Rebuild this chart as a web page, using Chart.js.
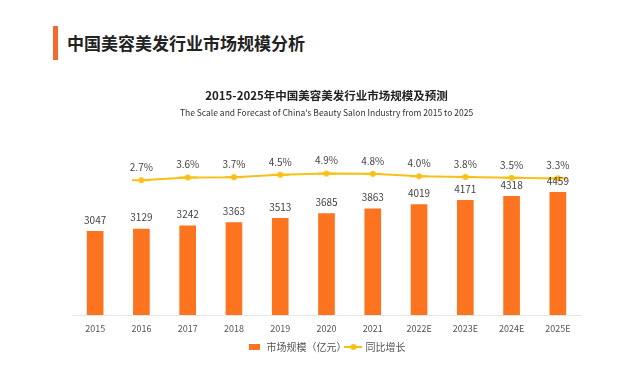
<!DOCTYPE html>
<html>
<head>
<meta charset="utf-8">
<script src="https://cdn.jsdelivr.net/npm/chart.js@4.4.1/dist/chart.umd.min.js"></script>
<style>
  html, body { margin: 0; padding: 0; background: #fff; }
  #wrap { position: relative; width: 640px; height: 374px; overflow: hidden; }
  #bar { position: absolute; left: 53px; top: 26px; width: 5px; height: 34px; background: #f26a2e; }
  #head { position: absolute; left: 67px; top: 29px; font: 700 17px "Noto Sans CJK SC", sans-serif; color: #222; line-height: 28px; }
  canvas { position: absolute; left: 0; top: 0; }
</style>
</head>
<body>
<div id="wrap">
  <div id="bar"></div>
  <div id="head">中国美容美发行业市场规模分析</div>
  <canvas id="chart" width="640" height="374"></canvas>
</div>
<script>
// chart data
const years = ['2015', '2016', '2017', '2018', '2019', '2020', '2021', '2022E', '2023E', '2024E', '2025E'];
const marketSize = [3047, 3129, 3242, 3363, 3513, 3685, 3863, 4019, 4171, 4318, 4459];
const growth = [null, 2.7, 3.6, 3.7, 4.5, 4.9, 4.8, 4.0, 3.8, 3.5, 3.3];

const orange = '#fd7420';
const yellow = '#f7c018';
const cjk = '"Noto Sans CJK SC", sans-serif';

// little legend icons
function rectIcon() {
  const c = document.createElement('canvas');
  c.width = 11; c.height = 6;
  const g = c.getContext('2d');
  g.fillStyle = orange;
  g.fillRect(0, 0, 11, 6);
  return c;
}
function lineIcon() {
  const c = document.createElement('canvas');
  c.width = 18; c.height = 8;
  const g = c.getContext('2d');
  g.strokeStyle = yellow;
  g.lineWidth = 2;
  g.beginPath(); g.moveTo(0, 4); g.lineTo(18, 4); g.stroke();
  g.fillStyle = yellow;
  g.beginPath(); g.arc(9, 4, 3, 0, Math.PI * 2); g.fill();
  return c;
}

// value labels above bars and points
const valueLabels = {
  id: 'valueLabels',
  afterDatasetsDraw(chart) {
    const ctx = chart.ctx;
    ctx.save();
    ctx.textAlign = 'center';
    ctx.textBaseline = 'middle';
    ctx.fillStyle = '#444';
    ctx.font = '10px ' + cjk;
    // dataset 1 = bars, dataset 0 = line
    chart.getDatasetMeta(1).data.forEach((el, i) => {
      ctx.fillText(marketSize[i], el.x, el.y - 11);
    });
    chart.getDatasetMeta(0).data.forEach((el, i) => {
      if (growth[i] == null) return;
      ctx.fillText(growth[i].toFixed(1) + '%', el.x, el.y - 13);
    });
    ctx.restore();
  }
};

new Chart(document.getElementById('chart'), {
  data: {
    labels: years,
    datasets: [
      {
        type: 'line',
        label: '同比增长',
        data: growth,
        yAxisID: 'y1',
        borderColor: yellow,
        backgroundColor: yellow,
        borderWidth: 2,
        pointRadius: 4,
        pointHoverRadius: 4,
        pointStyle: lineIcon(),
        order: 0
      },
      {
        type: 'bar',
        label: '市场规模（亿元）',
        data: marketSize,
        yAxisID: 'y',
        backgroundColor: orange,
        barPercentage: 0.36,
        categoryPercentage: 1,
        pointStyle: rectIcon(),
        order: 1
      }
    ]
  },
  options: {
    responsive: false,
    animation: false,
    layout: { padding: { left: 72, right: 59, top: 86, bottom: 12 } },
    elements: { point: { pointStyle: 'circle' } },
    scales: {
      x: {
        grid: { display: false, drawTicks: false },
        border: { display: true, color: '#e6e6e6' },
        ticks: { color: '#555', font: { size: 9, family: cjk, lineHeight: 1 }, padding: 9 }
      },
      y: { display: false, min: 0, max: 6000 },
      y1: { display: false, min: -42.1, max: 12.9 }
    },
    plugins: {
      title: {
        display: true,
        text: '2015-2025年中国美容美发行业市场规模及预测',
        color: '#222',
        font: { size: 11.5, weight: 'bold', family: cjk },
        padding: { top: 3, bottom: 2 }
      },
      subtitle: {
        display: true,
        text: 'The Scale and Forecast of China\'s Beauty Salon Industry from 2015 to 2025',
        color: '#333',
        font: { size: 8.5, family: cjk },
        padding: { top: 3, bottom: 31.5 }
      },
      legend: {
        position: 'bottom',
        reverse: true,
        labels: {
          usePointStyle: true,
          pointStyleWidth: 14,
          color: '#555',
          font: { size: 10, family: cjk, lineHeight: 1 },
          padding: 0
        }
      },
      tooltip: { enabled: false }
    }
  },
  plugins: [valueLabels]
});
</script>
</body>
</html>
